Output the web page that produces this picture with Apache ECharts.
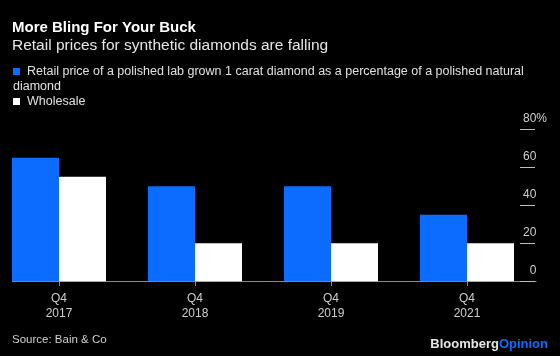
<!DOCTYPE html>
<html>
<head>
<meta charset="utf-8">
<script src="https://cdn.jsdelivr.net/npm/echarts@6/dist/echarts.min.js"></script>
<style>
html,body{margin:0;padding:0;background:#000;}
#chart{width:560px;height:356px;}
</style>
</head>
<body>
<div id="chart"></div>
<script>
const titleText = 'More Bling For Your Buck';
const subtitleText = 'Retail prices for synthetic diamonds are falling';
const seriesNames = ['Retail price of a polished lab grown 1 carat diamond as a percentage of a polished natural diamond', 'Wholesale'];
const categories = ['Q4\n2017', 'Q4\n2018', 'Q4\n2019', 'Q4\n2021'];
const retailValues = [65, 50, 50, 35];
const wholesaleValues = [55, 20, 20, 20];
const yTicks = [0, 20, 40, 60, 80];
const sourceText = 'Source: Bain & Co';

const BLUE = '#0b6cff';
const FONT = '"Liberation Sans", Arial, Helvetica, sans-serif';

const chart = echarts.init(document.getElementById('chart'), null, {renderer: 'canvas'});
const option = {
  backgroundColor: '#000',
  animation: false,
  textStyle: {fontFamily: FONT},
  title: [
    {text: titleText, left: 12, top: 18.5, padding: 0,
     textStyle: {color: '#fff', fontSize: 15, fontWeight: 'bold', fontFamily: FONT, lineHeight: 18}},
    {text: subtitleText, left: 12, top: 37, padding: 0,
     textStyle: {color: '#e6e6e6', fontSize: 15.5, fontWeight: 'normal', fontFamily: FONT, lineHeight: 18}},
    {text: '{sb|}{g|}' + 'Retail price of a polished lab grown 1 carat diamond as a percentage of a polished natural' + '\n{t|diamond}\n{sw|}{g|}{t|' + seriesNames[1] + '}',
     left: 13, top: 64, padding: 0,
     textStyle: {color: '#e0e0e0', fontSize: 12.5, fontWeight: 'normal', fontFamily: FONT, lineHeight: 15,
       rich: {
         sb: {width: 7, height: 7, backgroundColor: BLUE},
         sw: {width: 7, height: 7, backgroundColor: '#fff'},
         g: {width: 7},
         t: {color: '#e0e0e0', fontSize: 12.5, fontFamily: FONT, lineHeight: 15}
       }}},
    {text: sourceText, left: 12, top: 332, padding: 0,
     textStyle: {color: '#cfcfcf', fontSize: 11.5, fontWeight: 'normal', fontFamily: FONT, lineHeight: 16}},
    {text: '{b|Bloomberg}{o|Opinion}', right: 12, top: 337.5, padding: 0,
     textStyle: {rich: {
       b: {color: '#e6e6e6', fontSize: 13, fontWeight: 'bold', fontFamily: FONT},
       o: {color: BLUE, fontSize: 13, fontWeight: 'bold', fontFamily: FONT}
     }}}
  ],
  grid: [
    {left: -9, right: 25, top: 129.3, bottom: 74.8, outerBoundsMode: 'none', containLabel: false},
    {left: 12.3, right: 24, top: 129.3, bottom: 74.8, outerBoundsMode: 'none', containLabel: false}
  ],
  xAxis: [
    {type: 'category', gridIndex: 0, data: categories,
     axisLine: {show: false},
     axisTick: {show: true, alignWithLabel: true, length: 5, lineStyle: {color: '#8c8c8c'}},
     axisLabel: {color: '#cfcfcf', fontSize: 12, lineHeight: 15, margin: 9.5, fontFamily: FONT},
     splitLine: {show: false}},
    {type: 'value', gridIndex: 1, min: 0, max: 1,
     axisLine: {show: true, lineStyle: {color: '#8c8c8c', width: 1}},
     axisTick: {show: false}, axisLabel: {show: false}, splitLine: {show: false}}
  ],
  yAxis: [
    {type: 'value', gridIndex: 0, position: 'right', min: yTicks[0], max: yTicks[yTicks.length - 1], interval: yTicks[1] - yTicks[0],
     axisLine: {show: false},
     axisTick: {show: true, inside: true, length: 15, lineStyle: {color: '#bdbdbd'}},
     splitLine: {show: false},
     axisLabel: {inside: true, margin: -12, verticalAlign: 'bottom', padding: [0, 0, 5, 0],
       formatter: function (v) {
         return v === yTicks[yTicks.length - 1] ? '{n|' + v + '}{p|%}' : '{n|' + v + '}{h|%}';
       },
       rich: {
         n: {color: '#cfcfcf', fontSize: 12, fontFamily: FONT},
         p: {color: '#cfcfcf', fontSize: 12, fontFamily: FONT},
         h: {color: 'rgba(0,0,0,0)', fontSize: 12, fontFamily: FONT}
       }}},
    {type: 'value', gridIndex: 1, show: false, min: 0, max: 1}
  ],
  series: [
    {name: seriesNames[0], type: 'bar', xAxisIndex: 0, yAxisIndex: 0, data: retailValues,
     barWidth: 47, barGap: '0%', itemStyle: {color: BLUE}},
    {name: seriesNames[1], type: 'bar', xAxisIndex: 0, yAxisIndex: 0, data: wholesaleValues,
     barWidth: 47, barGap: '0%', itemStyle: {color: '#ffffff'}}
  ]
};
chart.setOption(option);
</script>
</body>
</html>
